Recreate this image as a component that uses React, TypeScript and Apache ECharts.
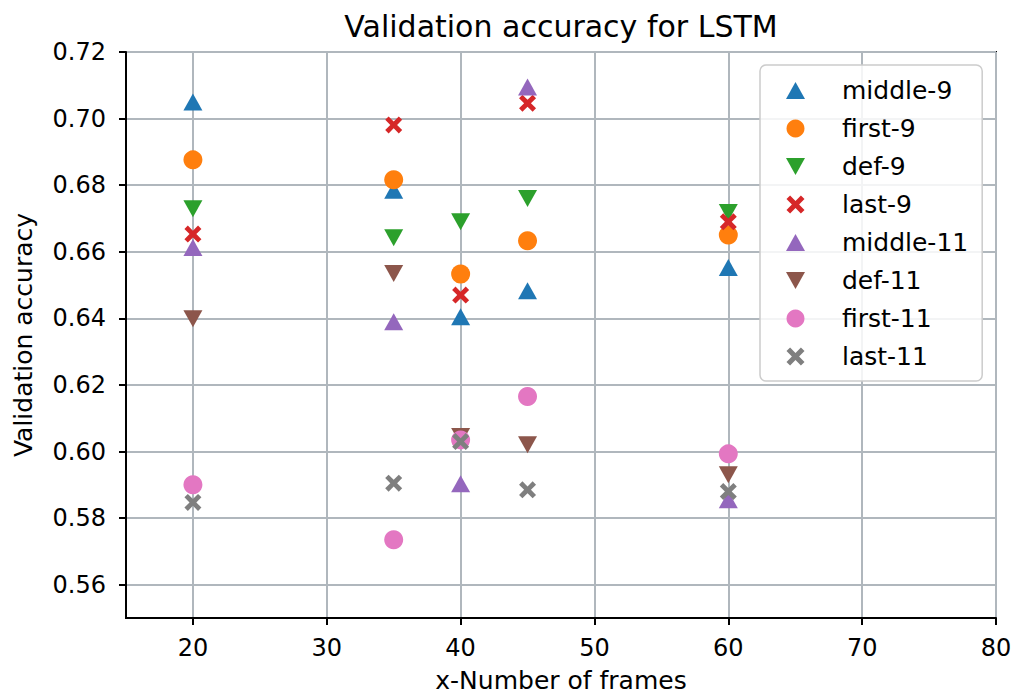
import React, { useEffect, useRef } from 'react';
import * as echarts from 'echarts';

const frames = [20, 35, 40, 45, 60];
const middle9 = [0.705, 0.6785, 0.6405, 0.6483, 0.6553];
const first9 = [0.6876, 0.6816, 0.6533, 0.6633, 0.665];
const def9 = [0.6729, 0.6642, 0.669, 0.676, 0.6718];
const last9 = [0.6653, 0.6981, 0.647, 0.7046, 0.669];
const middle11 = [0.6613, 0.639, 0.5903, 0.7095, 0.5855];
const def11 = [0.6399, 0.6535, 0.6045, 0.602, 0.593];
const first11 = [0.59, 0.5735, 0.6035, 0.6165, 0.5993];
const last11 = [0.5847, 0.5905, 0.603, 0.5885, 0.588];

const xTicks = [20, 30, 40, 50, 60, 70, 80];
const yTicks = [0.56, 0.58, 0.6, 0.62, 0.64, 0.66, 0.68, 0.7, 0.72];

const seriesNames = ['middle-9', 'first-9', 'def-9', 'last-9', 'middle-11', 'def-11', 'first-11', 'last-11'];
const seriesData = [middle9, first9, def9, last9, middle11, def11, first11, last11];
const colors = ['#1f77b4', '#ff7f0e', '#2ca02c', '#d62728', '#9467bd', '#8c564b', '#e377c2', '#7f7f7f'];

const UP = 'path://M5,0L10,9L0,9Z';
const DOWN = 'path://M0,0L10,0L5,9Z';
const CROSS = 'path://M0,2L2,0L5,3L8,0L10,2L7,5L10,8L8,10L5,7L2,10L0,8L3,5Z';
const symbols = [UP, 'circle', DOWN, CROSS, UP, DOWN, 'circle', CROSS];
const sizes: any[] = [[19, 17], 19, [19, 17], 17, [19, 17], [19, 17], 19, 17];

const FONT = 'DejaVu Sans';

export default function App() {
  const ref = useRef<HTMLDivElement>(null);
  useEffect(() => {
    if (!ref.current) return;
    const chart = echarts.init(ref.current, undefined, { renderer: 'svg' });
    chart.setOption({
      animation: false,
      backgroundColor: '#ffffff',
      title: {
        text: 'Validation accuracy for LSTM',
        left: 561,
        top: 11,
        padding: 0,
        textAlign: 'center',
        textStyle: { fontFamily: FONT, fontSize: 30, fontWeight: 'normal', color: '#000' },
      },
      grid: {
        left: 126,
        right: 20,
        top: 52,
        bottom: 76,
        outerBoundsMode: 'none',
        containLabel: false,
        show: true,
        borderColor: '#000',
        borderWidth: 2,
        backgroundColor: 'transparent',
      },
      legend: {
        orient: 'vertical',
        left: 760,
        top: 65,
        padding: [13, 14, 12, 26],
        itemWidth: 19,
        itemHeight: 18,
        itemGap: 13,
        backgroundColor: 'rgba(255,255,255,0.85)',
        borderColor: '#cccccc',
        borderWidth: 1.5,
        borderRadius: 6,
        data: seriesNames,
        formatter: (name: string) => '{a|' + name + '}',
        textStyle: {
          rich: {
            a: { fontFamily: FONT, fontSize: 25, lineHeight: 25, color: '#000', padding: [0, 0, 0, 32] },
          },
        },
      },
      xAxis: {
        type: 'value',
        min: 15,
        max: 80,
        name: 'x-Number of frames',
        nameLocation: 'middle',
        nameGap: 50,
        nameTextStyle: { fontFamily: FONT, fontSize: 25, lineHeight: 24, color: '#000' },
        axisLine: { show: true, onZero: false, lineStyle: { color: '#000', width: 2 } },
        axisTick: { show: true, customValues: xTicks, length: 7, lineStyle: { color: '#000', width: 2 } },
        axisLabel: {
          customValues: xTicks,
          margin: 18,
          fontFamily: FONT,
          fontSize: 24,
          color: '#000',
        },
        splitLine: { show: true, lineStyle: { color: '#b0b7bd', width: 2 } },
      },
      yAxis: {
        type: 'value',
        min: 0.55,
        max: 0.72,
        name: 'Validation accuracy',
        nameLocation: 'middle',
        nameGap: 90,
        nameTextStyle: { fontFamily: FONT, fontSize: 25, color: '#000' },
        axisLine: { show: true, onZero: false, lineStyle: { color: '#000', width: 2 } },
        axisTick: { show: true, customValues: yTicks, length: 7, lineStyle: { color: '#000', width: 2 } },
        axisLabel: {
          customValues: yTicks,
          margin: 20,
          fontFamily: FONT,
          fontSize: 24,
          color: '#000',
          formatter: (v: number) => v.toFixed(2),
        },
        splitLine: { show: true, lineStyle: { color: '#b0b7bd', width: 2 } },
      },
      series: seriesNames.map((name, i) => ({
        name,
        type: 'scatter',
        symbol: symbols[i],
        symbolSize: sizes[i],
        symbolKeepAspect: false,
        itemStyle: { color: colors[i], opacity: 1 },
        emphasis: { disabled: true },
        data: frames.map((f, j) => [f, seriesData[i][j]]),
      })),
    });
    return () => chart.dispose();
  }, []);
  return <div ref={ref} style={{ position: 'fixed', left: 0, top: 0, width: 1016, height: 694 }} />;
}
